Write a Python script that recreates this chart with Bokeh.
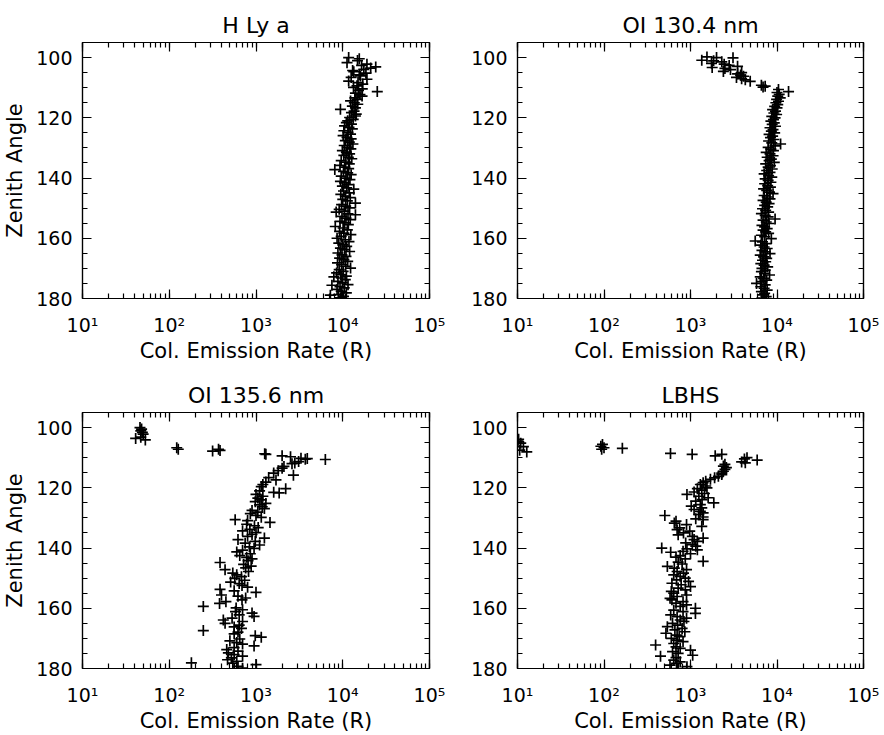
from bokeh.plotting import figure
from bokeh.models import Range1d, LogAxis, LinearAxis, LogTicker, SingleIntervalTicker
from bokeh.layouts import column, row
from bokeh.embed import file_html
from bokeh.resources import INLINE

FONT = "DejaVu Sans"

titles = ["H Ly a", "OI 130.4 nm", "OI 135.6 nm", "LBHS"]
x_label = "Col. Emission Rate (R)"
y_label = "Zenith Angle"
x_tick_values = [10, 100, 1000, 10000, 100000]
x_tick_labels = ["10\u00b9", "10\u00b2", "10\u00b3", "10\u2074", "10\u2075"]
y_tick_values = [100, 120, 140, 160, 180]
y_tick_labels = ["100", "120", "140", "160", "180"]

# ---- H Ly a ----
zen_lya = [100.0, 100.4, 101.0, 101.7, 102.2, 102.6, 103.1, 103.5, 103.9, 104.3,
           104.7, 105.2, 105.7, 106.1, 106.6, 107.2, 107.8, 108.3, 108.8, 109.4,
           109.9, 110.4, 110.9, 111.3, 111.8, 112.3, 112.8, 113.4, 113.9, 114.4,
           115.0, 115.5, 116.1, 116.7, 117.2, 117.8, 118.3, 118.8, 119.4, 119.9,
           120.5, 121.0, 121.6, 122.1, 122.7, 123.2, 123.7, 124.3, 124.8, 125.4,
           125.9, 126.5, 127.0, 127.6, 128.1, 128.7, 129.2, 129.8, 130.3, 130.9,
           131.4, 132.0, 132.5, 133.1, 133.6, 134.2, 134.7, 135.3, 135.8, 136.4,
           136.9, 137.2, 137.8, 138.3, 138.9, 139.4, 140.0, 140.5, 141.1, 141.6,
           142.2, 142.7, 143.3, 143.7, 144.3, 144.9, 145.4, 146.0, 146.5, 147.1,
           147.6, 148.3, 148.8, 149.3, 149.9, 150.4, 151.0, 151.3, 151.9, 152.2,
           152.7, 153.3, 153.8, 154.4, 154.9, 155.5, 156.1, 156.6, 157.2, 157.7,
           158.3, 158.8, 159.4, 160.0, 160.5, 161.1, 161.6, 162.2, 162.7, 163.3,
           163.8, 164.4, 164.9, 165.5, 166.0, 166.6, 167.1, 167.7, 168.2, 168.8,
           169.3, 169.9, 170.4, 171.0, 171.5, 172.1, 172.6, 172.8, 173.2, 173.7,
           174.3, 174.8, 175.4, 175.6, 176.1, 176.5, 177.0, 177.6, 178.1, 178.7,
           178.9, 179.3, 179.8, 180.3]
rate_lya = [11700, 15500, 14800, 11200, 19000, 16500, 24000, 21000, 17500, 13000,
            13400, 18500, 15500, 16000, 12500, 19000, 11700, 15000, 17000, 14600,
            13300, 16800, 15200, 25000, 14000, 15800, 16700, 13800, 14600, 12300,
            13600, 14900, 12900, 14000, 9400, 13500, 12600, 14300, 14000, 12000,
            13200, 11400, 11000, 12600, 10500, 11800, 12900, 10300, 11500, 12300,
            10100, 11200, 12500, 10700, 11900, 13100, 10400, 11300, 12400, 9900,
            11000, 12000, 10300, 11600, 12700, 9600, 10800, 11900, 9300, 10600,
            11700, 8100, 10200, 11400, 12500, 9600, 10900, 12100, 9400, 10500,
            11600, 9900, 11100, 13400, 10200, 11900, 9500, 10700, 12200, 10000,
            11300, 14000, 9700, 10800, 12000, 9100, 10400, 8400, 11500, 14000,
            9800, 10900, 12200, 9300, 10500, 11600, 8200, 10100, 11300, 9200,
            10300, 12400, 9600, 8600, 10700, 11800, 9000, 10000, 11100, 9400,
            10500, 12000, 8800, 9800, 10900, 9200, 10300, 11400, 8700, 9700,
            10800, 12300, 9100, 10100, 8500, 9500, 11000, 7900, 9800, 10700,
            8800, 9900, 11500, 7500, 9300, 10400, 8600, 9600, 11000, 8900,
            7200, 10200, 9400, 10800]

# ---- OI 130.4 nm ----
zen_1304 = [99.8, 100.0, 100.1, 100.9, 101.1, 101.4, 101.9, 102.2, 102.6, 102.9,
            103.3, 103.6, 104.0, 104.6, 105.0, 105.4, 105.8, 106.2, 106.6, 107.0,
            107.4, 107.9, 109.2, 109.5, 109.8, 110.6, 111.3, 111.6, 112.2, 112.8,
            113.4, 113.9, 114.5, 115.0, 115.6, 116.2, 116.7, 117.3, 117.8, 118.4,
            118.9, 119.5, 120.0, 120.6, 121.1, 121.7, 122.2, 122.8, 123.3, 123.9,
            124.4, 125.0, 125.5, 126.1, 126.6, 127.2, 127.7, 128.3, 128.7, 129.3,
            129.8, 130.4, 130.9, 131.5, 132.0, 132.6, 133.1, 133.7, 134.2, 134.8,
            135.3, 135.9, 136.4, 137.0, 137.5, 138.1, 138.6, 139.2, 139.7, 140.3,
            140.8, 141.4, 141.9, 142.5, 143.0, 143.6, 144.1, 144.7, 145.2, 145.8,
            146.3, 146.9, 147.4, 148.0, 148.5, 149.1, 149.6, 150.2, 150.7, 151.3,
            151.8, 152.4, 152.9, 153.6, 154.0, 154.6, 155.1, 155.7, 156.2, 156.8,
            157.3, 157.9, 158.4, 159.0, 159.5, 160.1, 160.9, 161.2, 161.8, 162.3,
            162.9, 163.4, 164.0, 164.5, 165.1, 165.6, 166.2, 166.7, 167.3, 167.8,
            168.4, 168.9, 169.5, 170.0, 170.6, 171.1, 171.7, 172.2, 172.8, 173.3,
            173.9, 174.4, 175.0, 175.5, 176.1, 176.6, 177.2, 177.7, 178.3, 178.8,
            179.4, 179.9, 180.3]
rate_1304 = [1550, 2000, 3100, 1350, 1850, 2300, 1750, 2450, 2800, 3500,
             1780, 2500, 2900, 2400, 3900, 3500, 3800, 4100, 3400, 3900,
             4300, 4900, 6600, 7300, 6900, 10400, 13600, 10000, 10600, 10200,
             10900, 9900, 10400, 9700, 10200, 9400, 10000, 8900, 9600, 9200,
             9900, 8700, 9500, 9100, 8500, 9300, 8800, 9600, 8300, 9000,
             8600, 9400, 8100, 8900, 8400, 9200, 8000, 8700, 11000, 9500,
             7900, 8500, 9100, 7500, 8300, 9000, 7700, 8600, 8100, 9300,
             7400, 8400, 7900, 8800, 7600, 8300, 7100, 8000, 8700, 7300,
             7900, 8500, 7200, 7800, 8400, 7000, 7600, 8200, 9000, 7100,
             7700, 8300, 6900, 7500, 8100, 7200, 7800, 6800, 7400, 8000,
             6600, 7300, 7900, 9500, 6900, 7500, 8100, 6700, 7200, 7700,
             6900, 7400, 8000, 6600, 7200, 8600, 5600, 6800, 7500, 6500,
             7100, 7700, 6700, 7300, 8300, 6400, 7000, 7600, 6800, 7400,
             6500, 7100, 7800, 6700, 7300, 6600, 7200, 8200, 6400, 7000,
             7600, 6700, 5800, 7300, 6500, 7100, 7700, 6600, 7200, 6900,
             7500, 6700, 7100]

# ---- OI 135.6 nm ----
zen_1356 = [100.0, 100.5, 101.1, 101.6, 102.2, 103.6, 103.2, 104.1, 106.7, 107.2,
            107.8, 107.2, 107.6, 108.7, 108.9, 109.4, 109.7, 110.2, 110.5, 110.3,
            110.6, 111.3, 111.8, 112.0, 112.9, 113.5, 114.3, 115.1, 115.8, 116.6,
            117.4, 118.1, 118.9, 119.6, 120.3, 121.0, 121.5, 121.7, 122.2, 122.8,
            123.4, 124.0, 124.6, 125.2, 125.7, 126.3, 126.9, 127.5, 128.1, 128.6,
            129.2, 129.8, 130.6, 130.9, 131.5, 132.1, 132.6, 133.2, 133.8, 134.3,
            134.9, 135.5, 136.1, 136.7, 137.2, 137.8, 138.4, 139.0, 139.6, 140.1,
            140.7, 141.3, 141.9, 142.5, 143.1, 143.6, 144.2, 144.8, 145.4, 146.0,
            146.6, 147.2, 147.8, 148.3, 148.9, 149.5, 150.1, 150.7, 151.3, 151.8,
            152.4, 153.0, 153.7, 154.2, 154.7, 155.6, 156.0, 156.6, 157.2, 157.8,
            158.4, 159.4, 159.9, 160.5, 161.1, 161.6, 162.2, 162.7, 163.3, 163.9,
            164.4, 165.0, 165.6, 166.2, 166.7, 167.4, 167.9, 168.5, 169.1, 169.6,
            170.2, 170.8, 171.4, 171.9, 172.5, 173.1, 173.7, 174.2, 174.8, 175.4,
            175.9, 176.5, 177.1, 177.6, 178.1, 178.2, 178.7, 179.3, 179.9, 180.3]
rate_1356 = [46, 48, 47, 49, 50, 41, 47, 53, 122, 127,
             316, 370, 385, 1260, 1300, 2000, 2500, 3300, 3700, 3900,
             6300, 3100, 2800, 2600, 2100, 2000, 1800, 1600, 2700, 1400,
             1700, 1300, 1200, 1150, 2200, 1100, 1600, 1850, 1000, 1200,
             1050, 1150, 980, 1300, 1100, 1180, 1250, 900, 1050, 860,
             1000, 1150, 575, 800, 1450, 780, 960, 1060, 850, 700,
             1000, 900, 800, 1250, 620, 980, 750, 1100, 840, 950,
             700, 600, 860, 650, 780, 900, 810, 385, 720, 880,
             760, 440, 820, 540, 600, 680, 570, 740, 510, 640,
             690, 800, 385, 560, 1000, 400, 620, 760, 690, 450,
             380, 247, 590, 700, 580, 900, 640, 950, 530, 420,
             700, 440, 640, 560, 680, 247, 620, 560, 980, 1150,
             650, 500, 600, 700, 950, 560, 460, 620, 480, 560,
             700, 520, 470, 600, 180, 540, 1000, 620, 700, 560]

# ---- LBHS ----
zen_lbhs = [103.9, 104.5, 105.2, 106.3, 107.5, 108.1, 105.6, 106.2, 106.7, 107.2,
            106.9, 108.6, 108.9, 109.4, 108.9, 110.0, 110.4, 110.8, 111.4, 111.7,
            112.2, 112.8, 113.3, 113.9, 114.5, 115.1, 115.6, 116.2, 116.7, 117.2,
            117.8, 118.3, 118.9, 119.4, 120.0, 120.3, 120.8, 121.4, 121.9, 122.2,
            122.8, 123.3, 123.9, 124.4, 125.0, 125.6, 126.1, 126.7, 127.2, 127.8,
            128.3, 128.9, 129.2, 129.7, 130.3, 130.6, 131.1, 131.7, 132.2, 132.8,
            133.3, 133.9, 134.4, 135.0, 135.6, 136.1, 136.7, 137.2, 137.8, 138.3,
            138.9, 139.4, 140.0, 140.3, 140.6, 141.1, 141.4, 141.9, 142.5, 143.0,
            143.6, 144.4, 144.7, 145.3, 146.1, 146.7, 147.2, 147.8, 148.3, 148.9,
            149.4, 150.0, 150.6, 151.1, 151.7, 152.2, 152.8, 153.3, 153.9, 154.4,
            155.0, 155.6, 156.1, 156.7, 157.2, 157.8, 158.3, 158.9, 159.4, 160.0,
            160.6, 161.1, 161.7, 162.2, 162.8, 163.3, 163.9, 164.4, 165.0, 165.6,
            166.1, 166.7, 167.2, 167.8, 168.3, 168.9, 169.4, 170.0, 170.6, 171.1,
            171.7, 172.2, 172.8, 173.3, 173.9, 174.4, 175.0, 175.6, 175.9, 176.4,
            177.2, 177.8, 178.3, 178.9, 179.4, 180.0]
rate_lbhs = [10.3, 10.1, 10.9, 11.7, 10.6, 12.8, 96, 92, 100, 94,
             163, 587, 1045, 1930, 2300, 4500, 4200, 5900, 3900, 4300,
             2500, 2400, 2600, 2500, 2400, 2300, 2300, 2100, 1900, 1700,
             1500, 1400, 1300, 1500, 1550, 1200, 1350, 1100, 1450, 910,
             1250, 1600, 1360, 1150, 1860, 1300, 1020, 1350, 1100, 1300,
             1400, 1250, 505, 1400, 1150, 1400, 680, 650, 900, 1350,
             750, 700, 980, 830, 720, 1050, 1400, 1100, 1200, 880,
             1050, 1150, 465, 910, 1200, 820, 590, 1000, 760, 680,
             870, 1400, 720, 800, 540, 650, 900, 700, 830, 640,
             760, 870, 690, 950, 610, 780, 1000, 720, 870, 600,
             640, 900, 700, 580, 610, 820, 680, 900, 760, 1140,
             640, 820, 1140, 590, 700, 900, 760, 840, 620, 710,
             540, 800, 660, 860, 520, 700, 740, 600, 700, 820,
             640, 395, 680, 760, 1000, 620, 720, 1060, 450, 680,
             640, 760, 690, 580, 910, 720]


def make_panel(title, zen, rate, width, height, bl, br, bt, bb, show_ylabel):
    p = figure(width=width, height=height, x_axis_type="log",
               x_range=Range1d(10, 1e5), y_range=Range1d(180, 95),
               output_backend="svg", toolbar_location=None, title=title,
               min_border_left=bl, min_border_right=br,
               min_border_top=bt, min_border_bottom=bb)
    p.title.align = "center"
    p.title.text_font = FONT
    p.title.text_font_size = "22px"
    p.title.text_font_style = "normal"
    p.title.text_color = "black"
    p.title.standoff = 9
    p.xgrid.visible = False
    p.ygrid.visible = False
    p.outline_line_color = "black"
    p.outline_line_width = 1.2
    p.background_fill_color = "white"
    p.border_fill_color = "white"

    xa = p.xaxis[0]
    xa.ticker = LogTicker(mantissas=[1], num_minor_ticks=10)
    xa.major_label_overrides = dict(zip(x_tick_values, x_tick_labels))
    xa.axis_label = x_label
    ya = p.yaxis[0]
    ya.ticker = SingleIntervalTicker(interval=20, num_minor_ticks=4)
    ya.major_label_overrides = dict(zip(y_tick_values, y_tick_labels))
    if show_ylabel:
        ya.axis_label = y_label

    top = LogAxis(ticker=LogTicker(mantissas=[1], num_minor_ticks=10))
    right = LinearAxis(ticker=SingleIntervalTicker(interval=20, num_minor_ticks=4))
    p.add_layout(top, "above")
    p.add_layout(right, "right")

    for ax in (xa, ya, top, right):
        ax.axis_line_color = "black"
        ax.axis_line_width = 1.2
        ax.major_tick_in = 9
        ax.major_tick_out = 0
        ax.minor_tick_in = 5
        ax.minor_tick_out = 0
        ax.major_tick_line_color = "black"
        ax.minor_tick_line_color = "black"
        ax.major_tick_line_width = 1.2
        ax.minor_tick_line_width = 1.2
        ax.major_label_text_font = FONT
        ax.major_label_text_font_size = "19px"
        ax.major_label_text_color = "black"
        ax.axis_label_text_font = FONT
        ax.axis_label_text_font_size = "21px"
        ax.axis_label_text_font_style = "normal"
        ax.axis_label_text_color = "black"
    for ax in (top, right):
        ax.major_label_text_font_size = "1px"
        ax.major_label_text_alpha = 0
        ax.major_label_standoff = 0
    xa.major_label_standoff = 15
    xa.axis_label_standoff = 0
    ya.major_label_standoff = 10
    ya.axis_label_standoff = 6

    p.scatter(rate, zen, marker="cross", size=11, line_color="black", line_width=1.7)
    return p


p1 = make_panel(titles[0], zen_lya, rate_lya, 447, 365, 80, 18, 42, 66, True)
p2 = make_panel(titles[1], zen_1304, rate_1304, 437, 365, 70, 21, 42, 66, False)
p3 = make_panel(titles[2], zen_1356, rate_1356, 447, 370, 80, 18, 47, 66, True)
p4 = make_panel(titles[3], zen_lbhs, rate_lbhs, 437, 370, 70, 21, 47, 66, False)

layout = column(row(p1, p2), row(p3, p4))
open("out.html", "w").write(file_html(layout, INLINE))
